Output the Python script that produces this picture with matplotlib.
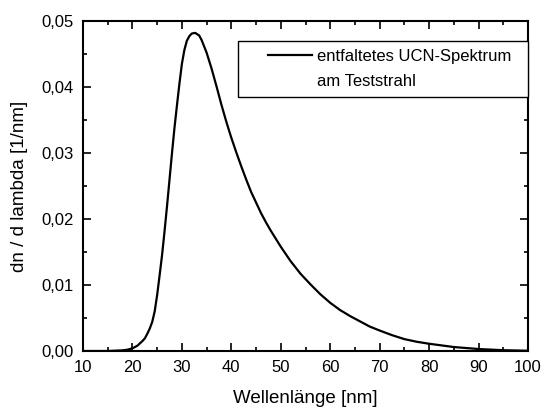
import matplotlib
matplotlib.use("Agg")
import matplotlib.pyplot as plt
import numpy as np
from matplotlib.lines import Line2D
from matplotlib.ticker import MultipleLocator, FuncFormatter

plt.rcParams['font.family'] = ['Liberation Sans', 'DejaVu Sans']

wavelength = [10, 15, 18, 19, 20, 21, 22, 22.5, 23, 23.5, 24, 24.5, 25, 25.5, 26, 26.5,
              27, 27.5, 28, 28.5, 29, 29.5, 30, 30.5, 31, 31.5, 32, 32.7, 33.5, 34,
              35, 36, 37, 38, 39, 40, 41, 42, 43, 44, 45, 46, 47, 48, 49, 50, 52, 54,
              56, 58, 60, 62, 64, 66, 68, 70, 72.5, 75, 77.5, 80, 85, 90, 95, 100]
spectrum = [0.0, 0.0, 0.0001, 0.0002, 0.0004, 0.0008, 0.0015, 0.0019, 0.0026, 0.0034,
            0.0044, 0.0060, 0.0085, 0.0115, 0.0146, 0.0182, 0.0220, 0.0260, 0.0300,
            0.0338, 0.0372, 0.0405, 0.0435, 0.0456, 0.0470, 0.0477, 0.0481, 0.0482,
            0.0478, 0.0471, 0.0452, 0.0428, 0.0401, 0.0373, 0.0347, 0.0323, 0.0301,
            0.0280, 0.0260, 0.0241, 0.0225, 0.0209, 0.0195, 0.0182, 0.0170, 0.0158,
            0.0136, 0.0117, 0.0101, 0.0086, 0.0073, 0.0062, 0.0053, 0.0045, 0.0037,
            0.0031, 0.0024, 0.0018, 0.0014, 0.0011, 0.0006, 0.0003, 0.00012, 0.00004]

legend_lines = ["entfaltetes UCN-Spektrum", "am Teststrahl"]
x_label = "Wellenlänge [nm]"
y_label = "dn / d lambda [1/nm]"

fig = plt.figure(figsize=(5.45, 4.12), dpi=100)
ax = fig.add_axes([83/545, 1-351/412, (528-83)/545, (351-21)/412])

line, = ax.plot(wavelength, spectrum, color='black', lw=1.6)

ax.set_xlim(10, 100)
ax.set_ylim(0, 0.05)
ax.xaxis.set_major_locator(MultipleLocator(10))
ax.xaxis.set_minor_locator(MultipleLocator(5))
ax.yaxis.set_major_locator(MultipleLocator(0.01))
ax.yaxis.set_minor_locator(MultipleLocator(0.005))
ax.yaxis.set_major_formatter(FuncFormatter(lambda v, p: f"{v:.2f}".replace('.', ',')))

ax.tick_params(which='both', direction='in', top=True, right=True, width=1.2,
               labelsize=12, colors='black')
ax.tick_params(axis='x', which='both', pad=6.5)
ax.tick_params(axis='y', which='both', pad=7)
ax.tick_params(which='major', length=6)
ax.tick_params(which='minor', length=3)
for s in ax.spines.values():
    s.set_linewidth(1.5)

ax.set_xlabel(x_label, fontsize=13.5, labelpad=11)
ax.set_ylabel(y_label, fontsize=13.5, labelpad=9)

fs = 12
hl = 4.0
blank = Line2D([], [], color='none')
leg = ax.legend([line, blank], legend_lines, loc='upper left',
                bbox_to_anchor=((238-83)/445, (351-96)/330, (528-238)/445, (96-41)/330),
                mode='expand', frameon=True, fancybox=False, fontsize=fs,
                handlelength=hl, handletextpad=0.3, labelspacing=0.63,
                borderaxespad=0, borderpad=0.45, framealpha=1)
leg.get_frame().set_edgecolor('black')
leg.get_frame().set_linewidth(1.0)
leg._legend_box.align = 'left'
# shorten the visible sample line so it sits to the right of the handle area
h = leg.legend_handles[0]
xd = np.asarray(h.get_xdata(), dtype=float)
x0, x1 = xd.min(), xd.max()
h.set_xdata(np.linspace(x0 + 0.34 * (x1 - x0), x1, len(xd)))

fig.savefig("out.png", dpi=100)
